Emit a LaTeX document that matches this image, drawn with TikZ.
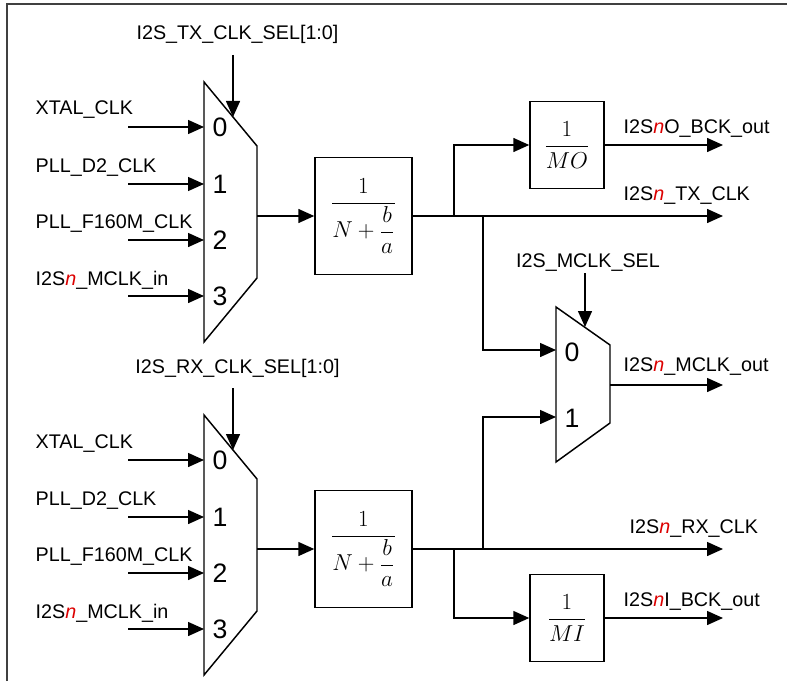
\documentclass[tikz,border=0pt]{standalone}
\usepackage[no-math]{fontspec}
\setmainfont{Liberation Sans}
\usepackage{xcolor}
\usepackage{amsmath}
\usetikzlibrary{
    arrows.meta,
    positioning
}
\definecolor{nred}{RGB}{220,0,0}
\newcommand{\rn}{\textcolor{nred}{\textit{n}}}

\begin{document}
\begin{tikzpicture}[
x=0.75pt, y=-0.75pt,
line width=1.1pt,
sig/.style={
-{Triangle[length=12pt,width=10.5pt]}
},
lbl/.style={
anchor=base west,
inner sep=0pt,
font=\fontsize{14.8}{17}\selectfont
},
sellbl/.style={
anchor=base,
inner sep=0pt,
font=\fontsize{14.8}{17}\selectfont
},
port/.style={
inner sep=0pt,
font=\fontsize{20}{22}\selectfont
},
divbox/.style={
draw,
minimum width=72.75pt,
minimum height=87.75pt,
inner sep=0pt,
font=\fontsize{16.5}{20}\selectfont
},
mbox/.style={
draw,
minimum width=55.5pt,
minimum height=65pt,
inner sep=0pt,
font=\fontsize{16.5}{20}\selectfont
}
]
\useasboundingbox (0,0) rectangle (787,681);

% frame
\draw[black!75] (7,681) -- (7,4) -- (787,4);

% ---- TX clock mux ----
\draw (204,82) -- (257,146) -- (257,278) -- (204,342) -- cycle;
\coordinate (txout) at (257,216);

\node[sellbl] (txsel) at (237.5,40) {I2S\_TX\_CLK\_SEL[1:0]};
\coordinate (txselA) at (233,55);
\coordinate (txselB) at (233,117);
\draw[sig] (txselA) -- (txselB);

\node[lbl] (txlbl0) at (35,115) {XTAL\_CLK};
\node[lbl] (txlbl1) at (35,172) {PLL\_D2\_CLK};
\node[lbl] (txlbl2) at (35,228) {PLL\_F160M\_CLK};
\node[lbl] (txlbl3) at (35,285) {I2S\rn\_MCLK\_in};

\coordinate (txa0) at (128,127);
\coordinate (txa1) at (128,184);
\coordinate (txa2) at (128,240);
\coordinate (txa3) at (128,296);
\coordinate (txp0) at (204,127);
\coordinate (txp1) at (204,184);
\coordinate (txp2) at (204,240);
\coordinate (txp3) at (204,296);
\draw[sig] (txa0) -- (txp0);
\draw[sig] (txa1) -- (txp1);
\draw[sig] (txa2) -- (txp2);
\draw[sig] (txa3) -- (txp3);

\node[port] (txn0) at (220,127) {0};
\node[port] (txn1) at (220,184) {1};
\node[port] (txn2) at (220,240) {2};
\node[port] (txn3) at (220,296) {3};

% TX divider
\node[divbox] (txdiv) at (363.5,216)
{$\displaystyle\frac{1}{N+\dfrac{b}{a}}$};
\draw[sig] (txout) -- (txdiv);

\node[mbox] (mo) at (567,145) {$\dfrac{1}{MO}$};

\coordinate (txbr1) at (454,216);
\coordinate (txbr2) at (483,216);
\coordinate (txclk) at (723,216);
\coordinate (bckO) at (723,145);

\draw[sig] (txdiv.east) -- (txclk);
\draw[sig] (txbr1) |- (mo.west);
\draw[sig] (mo.east) -- (bckO);

\node[lbl] (bckOlbl) at (623,133) {I2S\rn O\_BCK\_out};
\node[lbl] (txclklbl) at (623,200) {I2S\rn\_TX\_CLK};

% ---- MCLK mux ----
\draw (556,307) -- (610,345) -- (610,423) -- (556,462) -- cycle;
\coordinate (mp0) at (556,350);
\coordinate (mp1) at (556,417);
\coordinate (mout) at (610,385);
\coordinate (mclk) at (723,385);

\node[sellbl] (msel) at (588,267) {I2S\_MCLK\_SEL};
\coordinate (mselA) at (585,273);
\coordinate (mselB) at (585,327);
\draw[sig] (mselA) -- (mselB);

\node[port] (mn0) at (572,352) {0};
\node[port] (mn1) at (572,418) {1};

\draw[sig] (txbr2) |- (mp0);
\draw[sig] (mout) -- (mclk);
\node[lbl] (mclklbl) at (623,371) {I2S\rn\_MCLK\_out};

% ---- RX clock mux ----
\draw (204,415) -- (257,479) -- (257,611) -- (204,675) -- cycle;
\coordinate (rxout) at (257,549);

\node[sellbl] (rxsel) at (237.5,373) {I2S\_RX\_CLK\_SEL[1:0]};
\coordinate (rxselA) at (233,388);
\coordinate (rxselB) at (233,450);
\draw[sig] (rxselA) -- (rxselB);

\node[lbl] (rxlbl0) at (35,448) {XTAL\_CLK};
\node[lbl] (rxlbl1) at (35,505) {PLL\_D2\_CLK};
\node[lbl] (rxlbl2) at (35,561) {PLL\_F160M\_CLK};
\node[lbl] (rxlbl3) at (35,618) {I2S\rn\_MCLK\_in};

\coordinate (rxa0) at (128,460);
\coordinate (rxa1) at (128,517);
\coordinate (rxa2) at (128,573);
\coordinate (rxa3) at (128,629);
\coordinate (rxp0) at (204,460);
\coordinate (rxp1) at (204,517);
\coordinate (rxp2) at (204,573);
\coordinate (rxp3) at (204,629);
\draw[sig] (rxa0) -- (rxp0);
\draw[sig] (rxa1) -- (rxp1);
\draw[sig] (rxa2) -- (rxp2);
\draw[sig] (rxa3) -- (rxp3);

\node[port] (rxn0) at (220,460) {0};
\node[port] (rxn1) at (220,517) {1};
\node[port] (rxn2) at (220,573) {2};
\node[port] (rxn3) at (220,629) {3};

% RX divider
\node[divbox] (rxdiv) at (363.5,549)
{$\displaystyle\frac{1}{N+\dfrac{b}{a}}$};
\draw[sig] (rxout) -- (rxdiv);

\node[mbox] (mi) at (567,618) {$\dfrac{1}{MI}$};

\coordinate (rxbr1) at (454,549);
\coordinate (rxbr2) at (483,549);
\coordinate (rxclk) at (723,549);
\coordinate (bckI) at (723,618);

\draw[sig] (rxdiv.east) -- (rxclk);
\draw[sig] (rxbr2) |- (mp1);
\draw[sig] (rxbr1) |- (mi.west);
\draw[sig] (mi.east) -- (bckI);

\node[lbl] (rxclklbl) at (629,533) {I2S\rn\_RX\_CLK};
\node[lbl] (bckIlbl) at (623,606) {I2S\rn I\_BCK\_out};

\end{tikzpicture}
\end{document}
